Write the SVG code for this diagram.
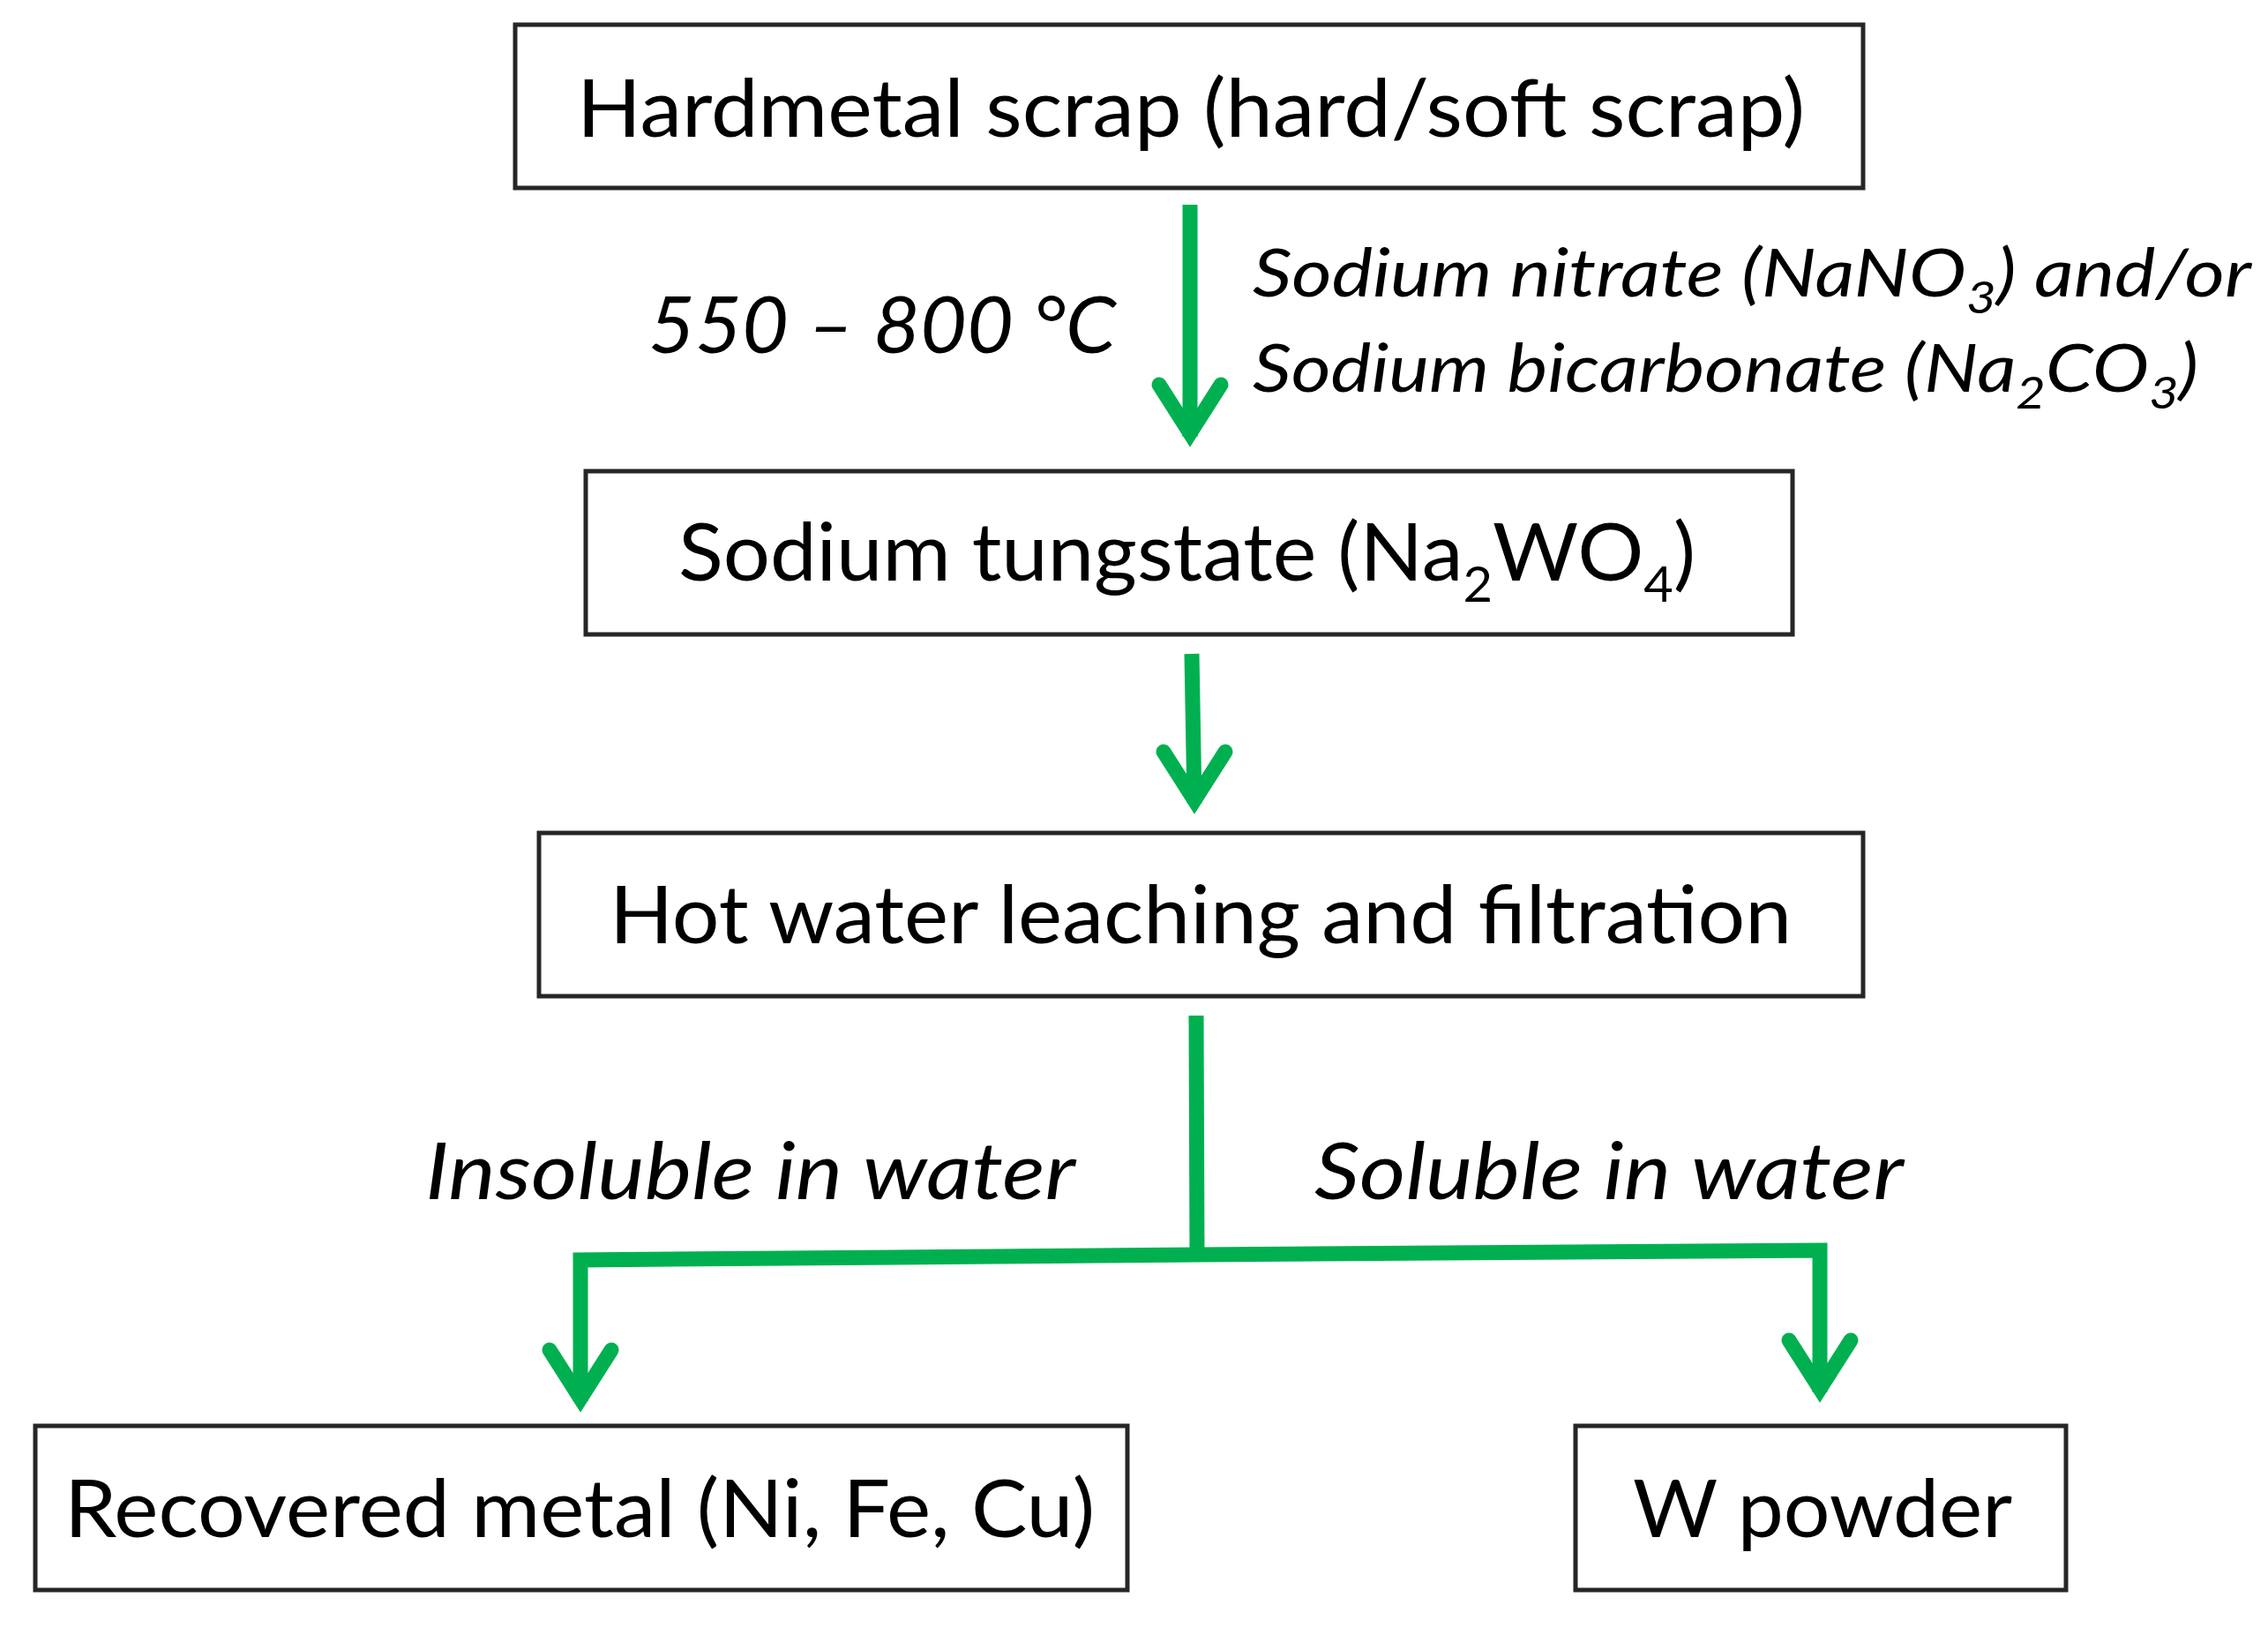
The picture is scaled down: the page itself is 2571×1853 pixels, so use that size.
<svg xmlns="http://www.w3.org/2000/svg" width="2571" height="1853" viewBox="0 0 2571 1853">
<style>
.box{fill:#fff;stroke:#262626;stroke-width:5}
.t{font-family:Lato,"Open Sans","Liberation Sans",sans-serif;font-size:91px;fill:#000}
.i{font-family:Lato,"Open Sans","Liberation Sans",sans-serif;font-style:italic;fill:#000}
.shaft{fill:none;stroke:#00B050;stroke-width:17;stroke-linejoin:miter}
.head{fill:none;stroke:#00B050;stroke-width:17;stroke-linecap:round;stroke-linejoin:miter;stroke-miterlimit:10}
</style>
<rect width="2571" height="1853" fill="#fff"/>
<g id="connectors">
<path class="shaft" d="M1349,232 L1349,495"/>
<path class="head" d="M1314,436 L1349,491 L1384,436"/>
<path class="shaft" d="M1351,741 L1354,910"/>
<path class="head" d="M1319,852 L1354,907 L1389,852"/>
<path class="shaft" d="M1356,1151 L1357,1424"/>
<path class="shaft" d="M658,1588 L658,1428 L1357,1422 L2063,1417 L2063,1578"/>
<path class="head" d="M623,1530 L658,1585 L693,1530"/>
<path class="head" d="M2028,1519 L2063,1574 L2098,1519"/>
</g>
<g id="labels">
<text class="i" x="735" y="400" font-size="90" textLength="530" lengthAdjust="spacingAndGlyphs">550 – 800 °C</text>
<text class="i" x="1420" y="336" font-size="75" textLength="1132" lengthAdjust="spacingAndGlyphs">Sodium nitrate (NaNO<tspan font-size="50" dy="19">3</tspan><tspan dy="-19">) and/or</tspan></text>
<text class="i" x="1420" y="444" font-size="75" textLength="1072" lengthAdjust="spacingAndGlyphs">Sodium bicarbonate (Na<tspan font-size="50" dy="19">2</tspan><tspan dy="-19">CO</tspan><tspan font-size="50" dy="19">3</tspan><tspan dy="-19">)</tspan></text>
<text class="i" x="482" y="1359" font-size="89" textLength="737" lengthAdjust="spacingAndGlyphs">Insoluble in water</text>
<text class="i" x="1490" y="1359" font-size="89" textLength="668" lengthAdjust="spacingAndGlyphs">Soluble in water</text>
</g>
<g id="node1">
<rect class="box" x="584" y="28" width="1528" height="185"/>
<text class="t" x="654" y="155" textLength="1392" lengthAdjust="spacingAndGlyphs">Hardmetal scrap (hard/soft scrap)</text>
</g>
<g id="node2">
<rect class="box" x="664" y="534" width="1368" height="185"/>
<text class="t" x="769" y="658" textLength="1153" lengthAdjust="spacingAndGlyphs">Sodium tungstate (Na<tspan font-size="56" dy="24">2</tspan><tspan dy="-24">WO</tspan><tspan font-size="56" dy="24">4</tspan><tspan dy="-24">)</tspan></text>
</g>
<g id="node3">
<rect class="box" x="611" y="944" width="1501" height="185"/>
<text class="t" x="691" y="1069" textLength="1340" lengthAdjust="spacingAndGlyphs">Hot water leaching and filtration</text>
</g>
<g id="node4">
<rect class="box" x="40" y="1616" width="1238" height="186"/>
<text class="t" x="73" y="1742" textLength="1168" lengthAdjust="spacingAndGlyphs">Recovered metal (Ni, Fe, Cu)</text>
</g>
<g id="node5">
<rect class="box" x="1786" y="1616" width="556" height="186"/>
<text class="t" x="1851" y="1742" textLength="430" lengthAdjust="spacingAndGlyphs">W powder</text>
</g>
</svg>
